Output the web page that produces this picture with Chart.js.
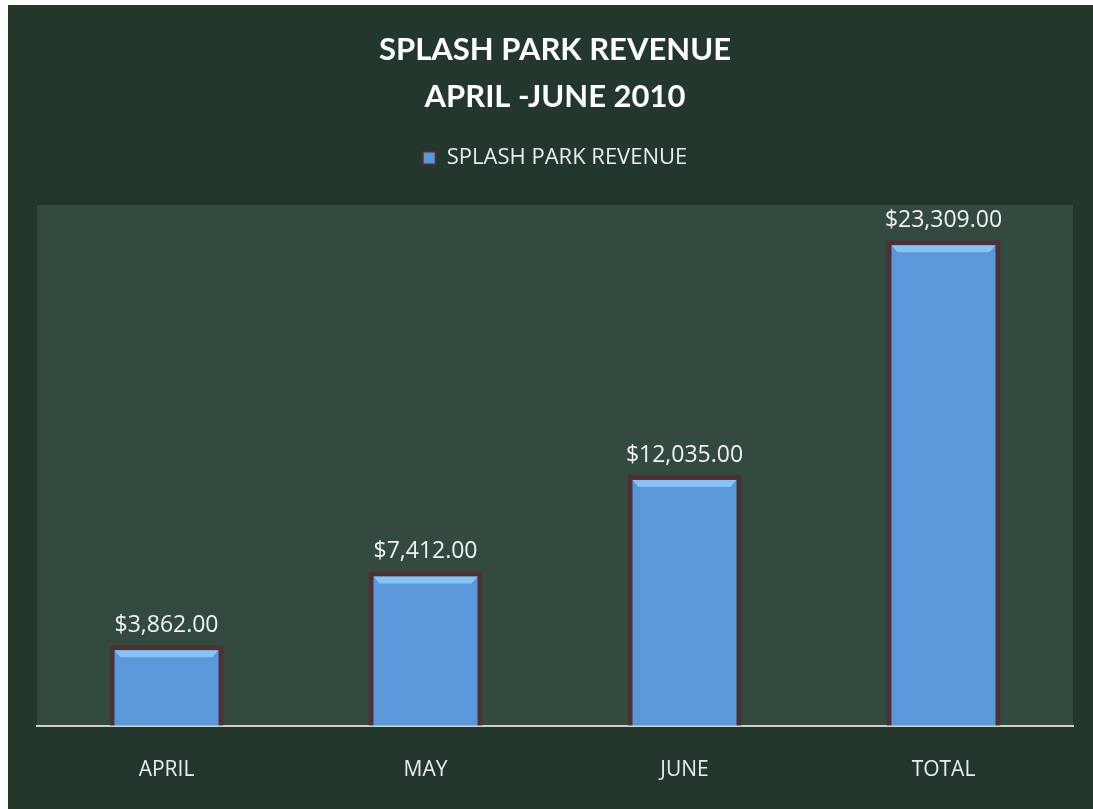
<!DOCTYPE html>
<html>
<head>
<meta charset="utf-8">
<script src="https://cdn.jsdelivr.net/npm/chart.js@4.4.0/dist/chart.umd.min.js"></script>
<style>
  html, body { margin: 0; padding: 0; background: #fff; }
  #wrap { position: absolute; left: 8px; top: 5px; width: 1085px; height: 804px; }
</style>
</head>
<body>
<div id="wrap"><canvas id="barChart" width="1085" height="804"></canvas></div>
<script>
// values
const months = ['APRIL', 'MAY', 'JUNE', 'TOTAL'];
const revenue = [3862, 7412, 12035, 23309];
const titleLines = ['SPLASH PARK REVENUE', 'APRIL -JUNE 2010'];
const seriesName = 'SPLASH PARK REVENUE';

const money = v => '$' + v.toLocaleString('en-US', { minimumFractionDigits: 2, maximumFractionDigits: 2 });

// dark green backdrop + lighter plot panel
const backdrop = {
  id: 'backdrop',
  beforeDraw(chart) {
    const { ctx, chartArea: a } = chart;
    ctx.save();
    ctx.fillStyle = '#24372d';
    ctx.fillRect(0, 0, chart.width, chart.height);
    ctx.fillStyle = '#334a3e';
    ctx.fillRect(a.left, a.top, a.right - a.left, a.bottom - a.top);
    ctx.restore();
  }
};

// extra gap between legend and plot panel
const legendGap = {
  id: 'legendGap',
  beforeInit(chart) {
    const fit = chart.legend.fit;
    chart.legend.fit = function () {
      fit.call(this);
      this.height += 26;
    };
  }
};

// value labels over bars + a light bevel on top of each bar
const barLabels = {
  id: 'barLabels',
  afterDatasetsDraw(chart) {
    const { ctx } = chart;
    const meta = chart.getDatasetMeta(0);
    ctx.save();
    meta.data.forEach((bar, i) => {
      const w = bar.width - 10;
      ctx.fillStyle = 'rgba(150,210,255,0.75)';
      ctx.beginPath();
      ctx.moveTo(bar.x - w / 2, bar.y + 5);
      ctx.lineTo(bar.x + w / 2, bar.y + 5);
      ctx.lineTo(bar.x + w / 2 - 6, bar.y + 12);
      ctx.lineTo(bar.x - w / 2 + 6, bar.y + 12);
      ctx.closePath();
      ctx.fill();
      ctx.fillStyle = '#f2f2f2';
      ctx.font = '23px "Open Sans", sans-serif';
      ctx.textAlign = 'center';
      ctx.textBaseline = 'bottom';
      ctx.fillText(money(revenue[i]), bar.x, bar.y - 8);
    });
    ctx.restore();
  }
};

new Chart(document.getElementById('barChart'), {
  type: 'bar',
  data: {
    labels: months,
    datasets: [{
      label: seriesName,
      data: revenue,
      backgroundColor: '#5a98da',
      borderColor: '#4d3036',
      borderWidth: 5,
      borderSkipped: 'bottom',
      categoryPercentage: 1,
      barPercentage: 0.44
    }]
  },
  options: {
    responsive: false,
    animation: false,
    layout: { padding: { left: 29, right: 20, top: 0, bottom: 2 } },
    plugins: {
      title: {
        display: true,
        text: titleLines,
        color: '#ffffff',
        font: { family: 'Lato', size: 31, weight: 'bold', lineHeight: 1.5 },
        padding: { top: 22, bottom: 17 }
      },
      legend: {
        display: true,
        labels: {
          color: '#ececec',
          font: { family: '"Open Sans"', size: 22 },
          boxWidth: 13,
          boxHeight: 13,
          padding: 10,
          generateLabels(chart) {
            return Chart.defaults.plugins.legend.labels.generateLabels(chart).map(l => ({ ...l, lineWidth: 2 }));
          }
        }
      },
      tooltip: { enabled: false }
    },
    scales: {
      y: { display: false, min: 0, max: 25000 },
      x: {
        grid: { display: false },
        border: { display: true, color: '#c9d2cc', width: 2 },
        ticks: { color: '#ececec', font: { family: '"Open Sans"', size: 21 }, padding: 24 }
      }
    }
  },
  plugins: [backdrop, legendGap, barLabels]
});
</script>
</body>
</html>
